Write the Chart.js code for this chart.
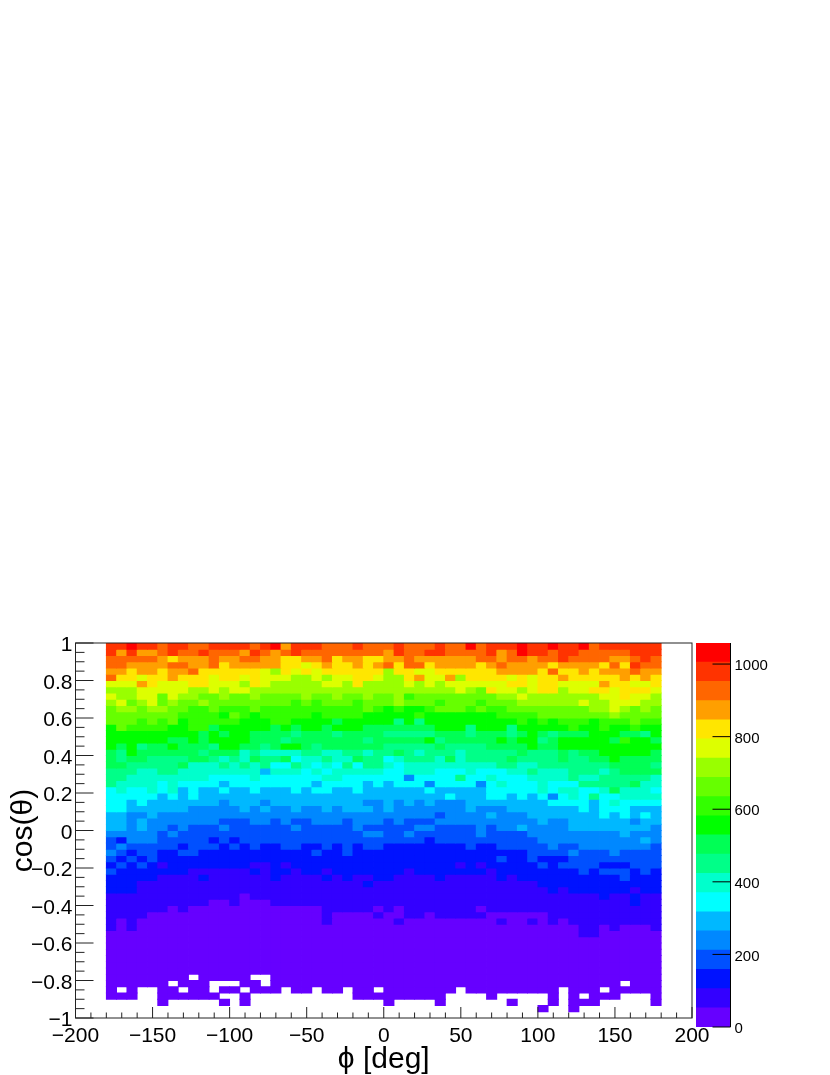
<!DOCTYPE html>
<html>
<head>
<meta charset="utf-8">
<title>cos(theta) vs phi</title>
<script src="https://cdn.jsdelivr.net/npm/chart.js@4/dist/chart.umd.min.js"></script>
<style>
    body { margin: 0; background: #fff; }
    canvas { position: absolute; top: 0; }
    #hist { left: 0; }
    #pal { left: 680px; }
</style>
</head>
<body>
<canvas id="hist" width="830" height="1075"></canvas>
<canvas id="pal" width="150" height="1075"></canvas>
<script>
// binning of the histogram
const phiStart = -180, phiBinWidth = 360 / 54;
const cosTop = 1, cosBinHeight = 2 / 60;

// colour band of each bin, top row first, n = empty bin
const n = null;
const bandRows = [
[18,18,19,18,18,17,18,18,17,17,18,18,18,18,17,18,19,16,18,18,18,17,17,17,18,17,17,17,18,17,17,17,18,17,17,19,17,18,18,18,19,18,18,19,18,18,19,17,18,18,18,18,18,18],
[18,16,18,16,16,17,18,17,17,18,17,17,17,16,18,17,16,17,18,17,17,17,17,17,17,17,17,16,18,17,17,18,18,17,17,17,17,18,16,17,19,18,18,17,18,18,17,17,17,17,17,18,18,18],
[17,17,17,17,17,16,15,16,16,16,17,16,16,17,17,16,16,15,15,16,16,17,15,16,16,15,15,16,16,17,16,16,16,16,16,16,17,17,16,17,17,16,17,17,18,17,17,17,17,16,16,17,18,17],
[17,17,16,16,16,16,17,17,16,16,17,15,16,16,16,16,16,15,15,14,15,16,15,15,16,15,16,17,15,17,17,15,16,16,16,16,15,16,17,16,16,16,16,15,16,16,16,16,15,17,15,18,17,17],
[16,16,15,16,16,15,16,16,17,15,15,15,15,15,15,14,13,15,14,15,14,15,15,15,15,15,15,13,15,15,14,14,15,15,15,15,15,15,16,16,16,16,15,17,15,15,16,15,16,16,16,17,16,16],
[17,15,15,14,15,15,16,15,15,15,14,15,15,14,15,14,14,14,13,13,14,13,14,14,15,15,14,13,13,15,16,14,14,16,13,15,15,15,15,14,15,14,15,15,16,15,15,15,15,15,16,15,16,15],
[14,14,14,16,15,14,14,14,15,15,14,14,14,13,15,14,13,13,13,13,13,14,14,13,15,13,13,13,13,14,13,14,13,14,14,14,14,14,14,15,15,14,15,15,14,14,14,14,16,15,15,14,14,15],
[13,13,13,14,14,14,14,14,13,13,14,13,14,14,13,13,13,13,13,13,13,13,13,13,13,13,13,13,13,13,13,13,13,13,14,13,12,15,14,14,13,14,15,15,13,14,14,15,15,14,15,15,15,14],
[14,13,13,14,14,12,14,13,13,12,12,13,12,12,13,12,12,12,12,13,12,12,13,12,12,13,12,12,13,11,12,12,12,12,12,12,12,12,13,13,14,13,13,13,13,13,13,13,14,14,15,14,14,13],
[13,14,12,13,14,12,13,12,12,13,12,12,12,12,12,12,12,12,11,12,11,12,12,12,11,12,12,12,13,12,12,12,11,12,12,12,11,12,12,12,13,13,13,13,13,13,14,13,13,14,14,14,13,13],
[12,13,13,12,13,13,12,12,11,11,12,11,11,11,12,11,11,11,11,11,11,11,11,11,11,12,11,10,11,10,10,11,12,12,12,11,12,11,11,12,12,12,12,12,12,12,12,13,13,14,13,12,13,12],
[12,12,12,12,12,12,12,11,11,11,11,10,12,11,10,11,11,11,11,11,10,11,11,11,11,10,10,10,10,10,11,10,10,10,10,10,10,10,11,11,11,11,12,12,12,12,12,12,12,13,12,12,12,12],
[12,12,12,11,12,11,12,10,11,11,11,11,11,10,10,10,11,11,10,10,10,10,9,10,10,10,10,10,8,10,8,10,10,10,10,10,10,10,10,10,11,10,11,10,11,11,11,10,11,11,11,12,11,11],
[10,12,11,11,11,11,10,10,11,11,9,10,10,10,10,10,9,10,9,10,10,9,10,10,10,9,9,9,9,9,9,9,10,10,10,8,10,10,10,8,10,10,10,10,10,11,10,10,11,10,10,11,10,10],
[10,10,10,10,10,10,10,10,10,9,10,9,10,10,9,9,9,9,8,9,9,9,8,9,9,9,9,8,8,8,8,8,9,9,9,8,9,9,9,8,9,10,9,8,9,9,9,10,10,10,9,9,8,10],
[10,10,10,10,10,10,9,9,10,9,10,10,10,10,9,9,9,8,9,9,9,9,9,9,9,8,9,9,9,9,9,10,8,9,9,9,9,9,10,9,10,10,8,9,10,10,10,10,10,9,11,10,10,9],
[10,9,10,8,9,9,10,9,9,9,8,10,10,9,9,8,9,10,10,9,8,9,9,9,9,9,9,8,8,8,8,8,9,8,8,8,8,9,9,9,9,10,9,9,10,10,10,10,10,10,10,10,10,10],
[9,8,10,9,9,9,9,9,9,8,9,9,9,7,8,7,7,7,7,8,8,7,7,8,8,7,8,8,9,8,7,8,8,8,7,8,8,8,8,8,9,8,8,8,9,8,9,9,10,10,10,10,10,9],
[9,8,9,9,8,8,8,8,9,9,8,7,8,7,9,8,8,9,6,7,7,8,7,7,9,8,8,6,7,8,8,8,7,9,7,8,8,8,8,9,8,8,8,8,9,8,8,9,9,10,9,9,9,9],
[9,9,8,8,8,8,8,9,7,7,7,8,7,8,7,8,6,6,8,7,6,7,6,8,6,8,8,7,6,7,7,7,7,7,7,7,7,7,8,8,7,7,8,8,8,8,8,8,8,9,9,9,9,8],
[8,8,8,7,7,8,8,7,7,7,7,7,7,7,7,5,7,7,7,6,7,6,7,7,7,7,7,6,6,7,7,7,6,6,6,7,6,6,6,7,7,8,7,7,7,8,8,8,7,8,9,9,9,9],
[8,8,7,7,7,7,7,7,7,7,6,6,6,6,7,6,6,6,6,6,6,7,7,6,6,6,6,6,6,4,6,6,6,6,8,6,6,7,6,6,6,7,7,7,7,8,7,7,8,8,8,8,8,7],
[8,7,7,7,7,6,7,6,6,6,6,5,6,6,6,6,6,6,6,6,5,6,6,6,6,5,6,5,6,6,6,4,6,6,6,6,4,6,7,6,6,6,7,6,6,6,8,8,8,8,8,9,7,7],
[6,7,6,6,7,6,7,5,6,5,5,6,5,5,6,5,5,5,6,5,6,6,5,5,6,5,5,5,5,5,5,6,5,5,5,5,5,6,6,6,6,6,7,6,7,7,6,6,7,9,7,7,7,6],
[6,6,6,6,6,5,6,5,6,5,5,5,5,5,5,5,5,5,5,5,5,5,5,5,5,5,5,5,5,5,5,5,5,6,5,5,5,6,6,5,6,5,6,4,6,7,6,8,6,6,7,7,7,7],
[6,6,5,6,5,5,5,5,5,5,5,4,5,5,5,4,5,5,5,5,5,5,5,5,5,4,4,5,4,5,4,5,4,4,4,5,5,5,5,5,5,5,5,6,6,6,6,5,6,7,6,6,6,6],
[6,6,5,5,5,5,5,5,4,4,4,4,4,5,4,5,4,4,5,4,4,5,4,5,5,5,4,5,4,4,4,4,4,4,4,5,4,4,4,5,5,5,5,5,5,5,6,5,6,6,6,5,5,5],
[5,5,4,4,5,4,4,4,4,4,4,4,4,4,4,4,4,4,4,4,4,4,4,4,4,4,4,4,4,4,4,4,3,4,4,4,4,5,4,4,4,5,5,5,5,5,5,5,6,5,6,5,6,5],
[5,5,4,5,4,4,4,4,4,4,4,3,3,3,4,4,3,4,3,3,4,4,4,3,4,4,4,3,4,3,3,3,4,4,4,4,4,4,4,4,4,4,5,4,4,5,5,5,5,5,5,4,5,5],
[5,5,4,5,4,4,3,4,3,3,3,4,3,3,3,3,3,3,4,3,3,3,3,3,4,3,3,3,3,3,4,4,3,3,3,3,4,3,4,4,5,4,4,4,4,5,5,5,5,5,5,5,5,4],
[4,4,4,4,4,3,4,3,3,3,3,3,3,3,3,3,3,3,3,3,3,3,3,3,3,4,4,3,3,4,3,3,3,3,3,3,4,3,3,3,3,4,4,4,4,4,4,4,4,4,5,4,4,4],
[3,2,4,4,4,3,3,3,3,3,2,3,2,3,3,3,3,3,3,3,3,3,3,3,3,3,3,3,3,3,3,2,3,3,3,3,3,3,3,3,3,3,4,4,4,4,4,4,4,4,4,4,5,4],
[3,4,3,3,3,3,3,2,3,3,3,2,3,2,3,2,2,3,3,2,2,3,2,3,2,3,3,2,2,2,2,2,2,2,2,3,2,2,3,3,3,3,3,4,3,3,4,4,4,4,4,4,4,3],
[4,3,2,3,3,2,2,3,3,2,2,2,2,2,2,2,2,2,2,2,3,2,2,3,2,2,2,2,2,2,2,2,2,2,2,2,2,2,2,2,2,3,3,3,3,4,3,3,3,4,3,3,3,3],
[3,2,3,2,3,2,2,2,2,2,2,2,2,2,2,2,2,2,2,2,2,2,2,2,2,2,2,2,2,2,2,2,2,2,2,2,2,2,3,2,2,3,2,2,2,3,3,3,3,3,3,3,3,3],
[2,3,2,3,2,1,2,2,2,2,2,2,2,2,1,1,2,1,2,2,2,2,2,2,2,2,2,2,2,2,2,2,2,2,1,2,1,2,2,2,2,2,3,2,3,3,3,3,2,2,2,3,3,3],
[3,2,2,2,2,2,2,2,1,1,1,1,1,1,2,1,2,2,1,2,2,1,2,2,2,2,2,2,2,1,2,2,2,2,2,2,2,1,2,2,2,2,2,2,2,2,3,2,3,3,3,2,3,2],
[2,2,2,2,2,1,1,1,1,2,1,1,1,1,1,1,2,1,1,1,1,2,1,2,1,1,2,2,1,1,1,1,2,1,1,1,1,1,2,1,2,2,2,2,2,2,2,2,2,2,3,2,2,2],
[2,2,2,1,1,1,1,1,1,1,1,1,1,1,1,1,1,1,1,1,1,1,1,1,1,2,1,1,1,1,1,1,1,1,1,1,1,1,1,1,1,1,2,2,2,2,2,2,2,2,2,2,2,2],
[2,2,2,1,1,1,1,1,1,1,1,1,1,1,1,1,1,1,1,1,1,1,1,1,1,1,1,1,1,1,1,1,1,1,1,1,1,1,1,1,1,1,1,2,1,2,2,2,2,2,2,1,2,2],
[1,1,1,1,1,1,1,1,1,1,1,1,1,0,1,1,1,1,1,1,1,1,1,1,1,1,1,1,1,1,1,1,1,1,1,1,1,1,1,1,1,1,1,1,1,1,1,1,2,1,1,2,1,1],
[1,1,1,1,1,1,1,1,1,1,0,0,1,0,0,0,1,1,1,1,1,1,1,1,1,1,1,1,1,1,1,1,1,1,1,1,1,1,1,1,1,1,1,1,1,1,1,1,1,1,1,2,1,1],
[1,1,1,1,1,1,0,1,0,0,0,0,0,0,0,0,0,0,0,0,0,1,1,1,1,1,0,1,0,1,1,1,1,1,1,1,0,1,1,1,1,1,1,1,1,1,1,1,1,1,1,1,1,1],
[1,1,1,1,0,0,0,0,0,0,0,0,0,0,0,0,0,0,0,0,0,1,0,0,0,0,1,0,0,1,1,0,1,1,1,1,1,0,0,0,0,0,0,1,1,1,1,1,1,1,1,1,1,1],
[1,0,1,0,0,0,0,0,0,0,0,0,0,0,0,0,0,0,0,0,0,1,0,0,0,0,0,0,1,0,0,0,0,0,0,0,0,0,1,0,0,1,0,1,0,1,1,1,1,1,1,1,1,1],
[1,0,1,0,0,0,0,0,0,0,0,0,0,0,0,0,0,0,0,0,0,0,0,0,0,0,0,0,0,0,0,0,0,0,0,0,0,0,0,0,0,0,0,0,0,0,1,1,0,1,0,0,0,1],
[0,0,0,0,0,0,0,0,0,0,0,0,0,0,0,0,0,0,0,0,0,0,0,0,0,0,0,0,0,0,0,0,0,0,0,0,0,0,0,0,0,0,0,0,0,0,1,1,0,0,0,0,0,0],
[0,0,0,0,0,0,0,0,0,0,0,0,0,0,0,0,0,0,0,0,0,0,0,0,0,0,0,0,0,0,0,0,0,0,0,0,0,0,0,0,0,0,0,0,0,0,0,0,0,0,0,0,0,0],
[0,0,0,0,0,0,0,0,0,0,0,0,0,0,0,0,0,0,0,0,0,0,0,0,0,0,0,0,0,0,0,0,0,0,0,0,0,0,0,0,0,0,0,0,0,0,0,0,0,0,0,0,0,0],
[0,0,0,0,0,0,0,0,0,0,0,0,0,0,0,0,0,0,0,0,0,0,0,0,0,0,0,0,0,0,0,0,0,0,0,0,0,0,0,0,0,0,0,0,0,0,0,0,0,0,0,0,0,0],
[0,0,0,0,0,0,0,0,0,0,0,0,0,0,0,0,0,0,0,0,0,0,0,0,0,0,0,0,0,0,0,0,0,0,0,0,0,0,0,0,0,0,0,0,0,0,0,0,0,0,0,0,0,0],
[0,0,0,0,0,0,0,0,0,0,0,0,0,0,0,0,0,0,0,0,0,0,0,0,0,0,0,0,0,0,0,0,0,0,0,0,0,0,0,0,0,0,0,0,0,0,0,0,0,0,0,0,0,0],
[0,0,0,0,0,0,0,0,0,0,0,0,0,0,0,0,0,0,0,0,0,0,0,0,0,0,0,0,0,0,0,0,0,0,0,0,0,0,0,0,0,0,0,0,0,0,0,0,0,0,0,0,0,0],
[0,0,0,0,0,0,0,0,n,0,0,0,0,0,n,n,0,0,0,0,0,0,0,0,0,0,0,0,0,0,0,0,0,0,0,0,0,0,0,0,0,0,0,0,0,0,0,0,0,0,0,0,0,0],
[0,0,0,0,0,0,n,0,0,0,n,n,n,0,0,n,0,0,0,0,0,0,0,0,0,0,0,0,0,0,0,0,0,0,0,0,0,0,0,0,0,0,0,0,0,0,0,0,0,0,n,0,0,0],
[0,n,0,n,n,0,0,n,0,0,n,0,0,n,0,0,0,n,0,0,n,0,0,n,0,0,n,0,0,0,0,0,0,0,n,0,0,0,0,0,0,0,0,0,n,0,0,0,n,0,0,0,0,0],
[0,0,0,n,n,0,0,0,0,0,0,n,n,0,n,n,n,n,n,n,n,n,n,n,0,0,0,0,0,0,0,0,0,n,n,n,n,0,n,n,n,n,n,0,n,0,n,0,0,0,n,n,n,0],
[n,n,n,n,n,0,n,n,n,n,n,0,n,0,n,n,n,n,n,n,n,n,n,n,n,n,n,0,n,n,n,n,0,n,n,n,n,n,n,0,n,n,n,0,n,0,0,0,n,n,n,n,n,0],
[n,n,n,n,n,n,n,n,n,n,n,n,n,n,n,n,n,n,n,n,n,n,n,n,n,n,n,n,n,n,n,n,n,n,n,n,n,n,n,n,n,n,0,n,n,0,n,n,n,n,n,n,n,n],
[n,n,n,n,n,n,n,n,n,n,n,n,n,n,n,n,n,n,n,n,n,n,n,n,n,n,n,n,n,n,n,n,n,n,n,n,n,n,n,n,n,n,n,n,n,n,n,n,n,n,n,n,n,n]
];

// palette, lowest band first
const bandColors = ['#6600ff','#3300ff','#0012ff','#0050ff','#0088ff','#00b8ff','#00ffff','#00ffcc','#00ff88','#00ff55',
    '#00ff00','#33ff00','#66ff00','#99ff00','#ddff00','#ffe600','#ff9f00','#ff6600','#ff3300','#ff0000'];
const zMax = 1058;
const bandHeight = zMax / bandColors.length;

const fontName = '"Liberation Sans", Arial, sans-serif';

const numLabel = (v) => String(v).replace('-', '\u2212');

// the y labels sit a bit lower than the canvas middle baseline puts them
const nudgeLabels = (scale, dy) => {
    if (scale.nudged) return;
    scale.nudged = true;
    const compute = scale._computeLabelItems;
    scale._computeLabelItems = function (area) {
        const items = compute.call(scale, area);
        items.forEach((item) => { item.options.translation[1] += dy; });
        return items;
    };
};

// ROOT draws its ticks inside the frame, so the axis ticks are painted here
const frameTicks = {
    id: 'frameTicks',
    afterDatasetsDraw(chart) {
        const { ctx, chartArea: a, scales } = chart;
        ctx.save();
        ctx.strokeStyle = '#222';
        ctx.lineWidth = 1;
        ctx.strokeRect(a.left, a.top, a.right - a.left, a.bottom - a.top);
        ctx.beginPath();
        scales.x.ticks.forEach((t) => {
            const px = scales.x.getPixelForValue(t.value);
            const len = t.value % 50 === 0 ? 11 : 5.5;
            ctx.moveTo(px, a.bottom);
            ctx.lineTo(px, a.bottom - len);
        });
        scales.y.ticks.forEach((t) => {
            const py = scales.y.getPixelForValue(t.value);
            const len = Math.round(t.value * 20) % 4 === 0 ? 18 : 9;
            ctx.moveTo(a.left, py);
            ctx.lineTo(a.left + len, py);
        });
        ctx.stroke();
        ctx.restore();
    }
};

const paletteTicks = {
    id: 'paletteTicks',
    afterDatasetsDraw(chart) {
        const { ctx, chartArea: a, scales } = chart;
        ctx.save();
        ctx.strokeStyle = '#000';
        ctx.lineWidth = 1;
        ctx.beginPath();
        ctx.moveTo(a.right, a.top);
        ctx.lineTo(a.right, a.bottom);
        scales.y.ticks.forEach((t) => {
            const py = scales.y.getPixelForValue(t.value);
            ctx.moveTo(a.right - 18, py);
            ctx.lineTo(a.right, py);
        });
        ctx.stroke();
        ctx.restore();
    }
};

// one dataset per row of the histogram, empty bins are left out
const histDatasets = bandRows.map((row, r) => {
    const hi = cosTop - r * cosBinHeight;
    const cells = [];
    const colors = [];
    row.forEach((band, c) => {
        if (band === null) return;
        cells.push({ x: phiStart + (c + 0.5) * phiBinWidth, y: [hi - cosBinHeight, hi] });
        colors.push(bandColors[band]);
    });
    return {
        data: cells,
        backgroundColor: colors,
        borderWidth: 0,
        inflateAmount: 0.4,
        grouped: false,
        barPercentage: 1,
        categoryPercentage: 1
    };
});

new Chart(document.getElementById('hist').getContext('2d'), {
    type: 'bar',
    data: { datasets: histDatasets },
    plugins: [frameTicks],
    options: {
        responsive: false,
        animation: false,
        events: [],
        layout: { padding: { top: 643, right: 138, left: 0, bottom: 0 } },
        plugins: { legend: { display: false }, tooltip: { enabled: false } },
        scales: {
            x: {
                type: 'linear',
                offset: false,
                min: -200,
                max: 200,
                afterFit(scale) { scale.height = 57; },
                grid: { display: false, offset: false, drawTicks: false },
                border: { display: false },
                ticks: {
                    stepSize: 10,
                    autoSkip: false,
                    maxRotation: 0,
                    padding: 6,
                    color: '#000',
                    font: { family: fontName, size: 21 },
                    callback: (v) => (v % 50 === 0 ? numLabel(v) : '')
                },
                title: {
                    display: true,
                    text: '\u03d5 [deg]',
                    color: '#000',
                    padding: { top: 0, bottom: 0 },
                    font: { family: fontName, size: 30, lineHeight: 1 }
                }
            },
            y: {
                min: -1,
                max: 1,
                beforeUpdate(scale) { nudgeLabels(scale, 2.5); },
                afterFit(scale) { scale.width = 75.5; },
                grid: { display: false, drawTicks: false },
                border: { display: false },
                ticks: {
                    stepSize: 0.05,
                    autoSkip: false,
                    padding: 3,
                    color: '#000',
                    font: { family: fontName, size: 21 },
                    callback: (v) => {
                        const q = Math.round(v * 20);
                        return q % 4 === 0 ? numLabel(Math.round(q * 5) / 100) : '';
                    }
                },
                title: {
                    display: true,
                    text: 'cos(\u03b8)',
                    color: '#000',
                    padding: { top: 6, bottom: 0 },
                    font: { family: fontName, size: 30 }
                }
            }
        }
    }
});

// colour scale on the right
const paletteDatasets = bandColors.map((color, i) => ({
    data: [[i * bandHeight, (i + 1) * bandHeight]],
    backgroundColor: color,
    borderWidth: 0,
    inflateAmount: 0.4,
    grouped: false,
    barPercentage: 1,
    categoryPercentage: 1
}));

new Chart(document.getElementById('pal').getContext('2d'), {
    type: 'bar',
    data: { labels: ['z'], datasets: paletteDatasets },
    plugins: [paletteTicks],
    options: {
        responsive: false,
        animation: false,
        events: [],
        layout: { padding: { top: 643, bottom: 48, left: 16, right: 0 } },
        plugins: { legend: { display: false }, tooltip: { enabled: false } },
        scales: {
            x: { display: false },
            y: {
                position: 'right',
                min: 0,
                max: zMax,
                beforeUpdate(scale) { nudgeLabels(scale, 2); },
                afterBuildTicks(scale) { scale.ticks = scale.ticks.filter((t) => t.value % 200 === 0); },
                afterFit(scale) { scale.width = 150 - 16 - 34.5; },
                grid: { display: false, drawTicks: false },
                border: { display: false },
                ticks: {
                    stepSize: 200,
                    padding: 4,
                    color: '#000',
                    font: { family: fontName, size: 15 },
                    callback: (v) => String(v)
                }
            }
        }
    }
});
</script>
</body>
</html>
